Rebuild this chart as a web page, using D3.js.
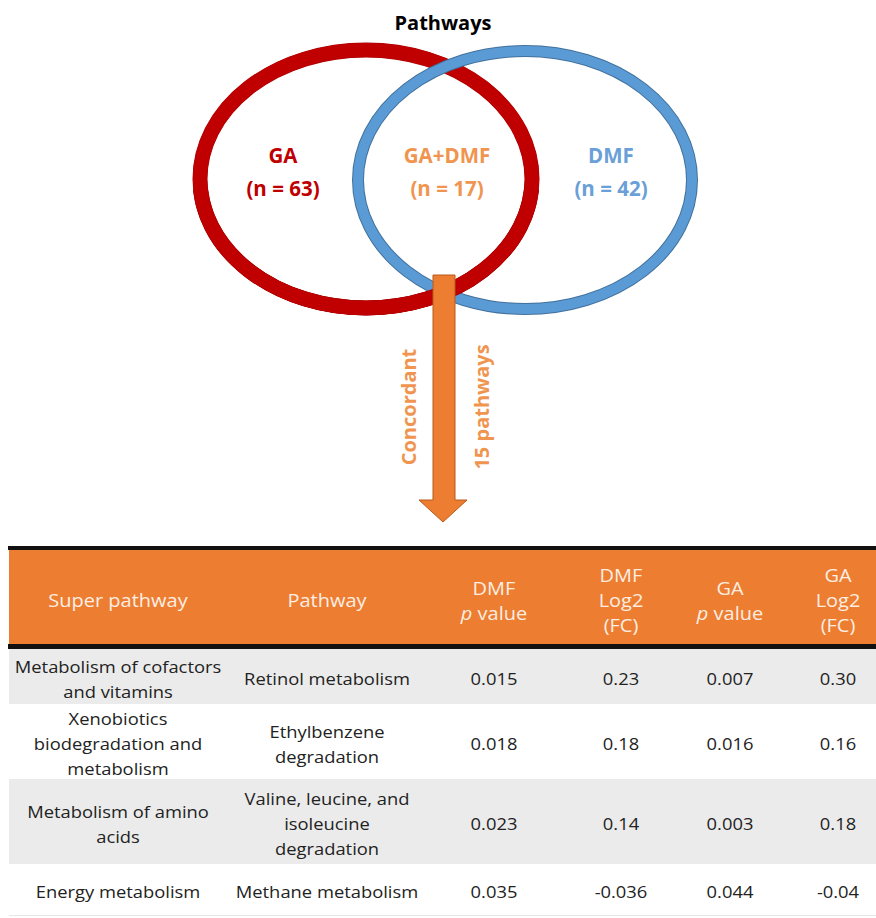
<!DOCTYPE html>
<html>
<head>
<meta charset="utf-8">
<script src="https://cdn.jsdelivr.net/npm/d3@7"></script>
<style>
  html, body { margin: 0; padding: 0; background: #fff; }
  svg { display: block; }
  text { font-family: "Open Sans", "DejaVu Sans", sans-serif; }
</style>
</head>
<body>
<svg id="chart" width="876" height="918"></svg>
<script>
// ---------------- DATA ----------------
const chartTitle = "Pathways";
const vennSets = ["GA", "GA+DMF", "DMF"];
const vennCounts = [63, 17, 42];
const arrowLabels = ["Concordant", "15 pathways"];

const tableHeaders = [
  ["Super pathway"],
  ["Pathway"],
  ["DMF", "<i>p</i> value"],
  ["DMF", "Log2", "(FC)"],
  ["GA", "<i>p</i> value"],
  ["GA", "Log2", "(FC)"]
];
const superPathways = [
  ["Metabolism of cofactors", "and vitamins"],
  ["Xenobiotics", "biodegradation and", "metabolism"],
  ["Metabolism of amino", "acids"],
  ["Energy metabolism"]
];
const pathways = [
  ["Retinol metabolism"],
  ["Ethylbenzene", "degradation"],
  ["Valine, leucine, and", "isoleucine", "degradation"],
  ["Methane metabolism"]
];
const dmfP = ["0.015", "0.018", "0.023", "0.035"];
const dmfLog2FC = ["0.23", "0.18", "0.14", "-0.036"];
const gaP = ["0.007", "0.016", "0.003", "0.044"];
const gaLog2FC = ["0.30", "0.16", "0.18", "-0.04"];

// ---------------- LAYOUT ----------------
const svg = d3.select("#chart");
const W = 876;

const red = "#c00000", blue = "#5b9bd5", blueEdge = "#41719c";
const orange = "#ed7d31", orangeEdge = "#b85a1a", orangeText = "#f0954f";
const textColors = [red, orangeText, "#6a9fd8"];

// Title
svg.append("text")
  .attr("x", 443).attr("y", 22)
  .attr("text-anchor", "middle").attr("dominant-baseline", "central")
  .attr("font-size", 20).attr("font-weight", 700).attr("fill", "#000")
  .text(chartTitle);

// Venn geometry via linear scale (unit ellipse space -> pixels)
const vx = d3.scaleLinear().domain([0, 1]).range([366, 525]);
const ellipses = [
  {cx: vx(0), cy: 179, rx: 166, ry: 129},
  {cx: vx(1), cy: 180, rx: 167, ry: 129}
];

const defs = svg.append("defs");
defs.append("clipPath").attr("id", "lowerHalf")
  .append("rect").attr("x", 0).attr("y", 190).attr("width", W).attr("height", 200);

function ring(parent, e, edge, fill, wEdge, wFill) {
  parent.append("ellipse").attr("cx", e.cx).attr("cy", e.cy).attr("rx", e.rx).attr("ry", e.ry)
    .attr("fill", "none").attr("stroke", edge).attr("stroke-width", wEdge);
  parent.append("ellipse").attr("cx", e.cx).attr("cy", e.cy).attr("rx", e.rx).attr("ry", e.ry)
    .attr("fill", "none").attr("stroke", fill).attr("stroke-width", wFill);
}
const g = svg.append("g");
ring(g, ellipses[0], "#a80000", red, 15, 14);
ring(g, ellipses[1], blueEdge, blue, 12, 10);
// red again on lower half so the rings interlock
ring(g.append("g").attr("clip-path", "url(#lowerHalf)"), ellipses[0], "#a80000", red, 15, 14);

// Venn labels
const labelX = d3.scalePoint().domain(vennSets).range([283, 611]);
vennSets.forEach((s, i) => {
  const x = labelX(s);
  svg.append("text").attr("x", x).attr("y", 155)
    .attr("text-anchor", "middle").attr("dominant-baseline", "central")
    .attr("font-size", 20.5).attr("font-weight", 700).attr("fill", textColors[i])
    .text(s);
  svg.append("text").attr("x", x).attr("y", 188)
    .attr("text-anchor", "middle").attr("dominant-baseline", "central")
    .attr("font-size", 20.5).attr("font-weight", 700).attr("fill", textColors[i])
    .text(`(n = ${vennCounts[i]})`);
});

// Arrow
const arrowPath = d3.path();
arrowPath.moveTo(433, 275);
arrowPath.lineTo(455, 275);
arrowPath.lineTo(455, 500);
arrowPath.lineTo(467, 500);
arrowPath.lineTo(443, 522);
arrowPath.lineTo(419, 500);
arrowPath.lineTo(433, 500);
arrowPath.closePath();
svg.append("path").attr("d", arrowPath.toString())
  .attr("fill", orange).attr("stroke", orangeEdge).attr("stroke-width", 1);

[[408, arrowLabels[0]], [481, arrowLabels[1]]].forEach(([x, t]) => {
  svg.append("text")
    .attr("transform", `translate(${x},407) rotate(-90)`)
    .attr("text-anchor", "middle").attr("dominant-baseline", "central")
    .attr("font-size", 20).attr("font-weight", 700).attr("fill", orangeText)
    .text(t);
});

// ---------------- TABLE ----------------
const tableLeft = 9, tableRight = W;
const colKeys = d3.range(tableHeaders.length);
const colX = d3.scaleOrdinal().domain(colKeys).range([118, 327, 494, 621, 730, 838]);
const headerTop = 550, headerBottom = 644;
const rowEdges = [649, 704, 779, 864, 915];
const rowY = d3.scaleOrdinal().domain(d3.range(4)).range(d3.range(4).map(i => [rowEdges[i], rowEdges[i + 1]]));
const lineH = 25;
const sx = 1.08;

svg.append("rect").attr("x", tableLeft).attr("y", headerTop)
  .attr("width", tableRight - tableLeft).attr("height", headerBottom - headerTop)
  .attr("fill", orange);
svg.append("rect").attr("x", tableLeft - 1).attr("y", 546)
  .attr("width", tableRight - tableLeft + 1).attr("height", 4).attr("fill", "#111");
svg.append("rect").attr("x", tableLeft - 1).attr("y", headerBottom)
  .attr("width", tableRight - tableLeft + 1).attr("height", 5).attr("fill", "#111");

d3.range(4).forEach(i => {
  const [y0, y1] = rowY(i);
  svg.append("rect").attr("x", tableLeft).attr("y", y0)
    .attr("width", tableRight - tableLeft).attr("height", y1 - y0)
    .attr("fill", i % 2 === 0 ? "#ebebeb" : "#ffffff");
});
svg.append("line").attr("x1", tableLeft).attr("x2", tableRight)
  .attr("y1", 915.5).attr("y2", 915.5).attr("stroke", "#e6e6e6").attr("stroke-width", 1);

function multiline(x, cy, lines, color, size) {
  const n = lines.length;
  lines.forEach((ln, k) => {
    const y = cy + (k - (n - 1) / 2) * lineH;
    const t = svg.append("text")
      .attr("transform", `translate(${x},${y}) scale(${sx},1)`)
      .attr("text-anchor", "middle").attr("dominant-baseline", "central")
      .attr("font-size", size).attr("fill", color);
    const m = ln.match(/^<i>(.*)<\/i>(.*)$/);
    if (m) {
      t.append("tspan").attr("font-style", "italic").text(m[1]);
      t.append("tspan").text(m[2]);
    } else {
      t.text(ln);
    }
  });
}

const headerCy = (headerTop + headerBottom) / 2 + 3;
tableHeaders.forEach((h, c) => multiline(colX(c), headerCy, h, "#fdeee2", 18.5));

const columns = [superPathways, pathways, dmfP.map(v => [v]), dmfLog2FC.map(v => [v]), gaP.map(v => [v]), gaLog2FC.map(v => [v])];
d3.range(4).forEach(i => {
  const [y0, y1] = rowY(i);
  const cy = (y0 + y1) / 2 + 2;
  columns.forEach((col, c) => multiline(colX(c), cy, col[i], "#222", 17));
});
</script>
</body>
</html>
